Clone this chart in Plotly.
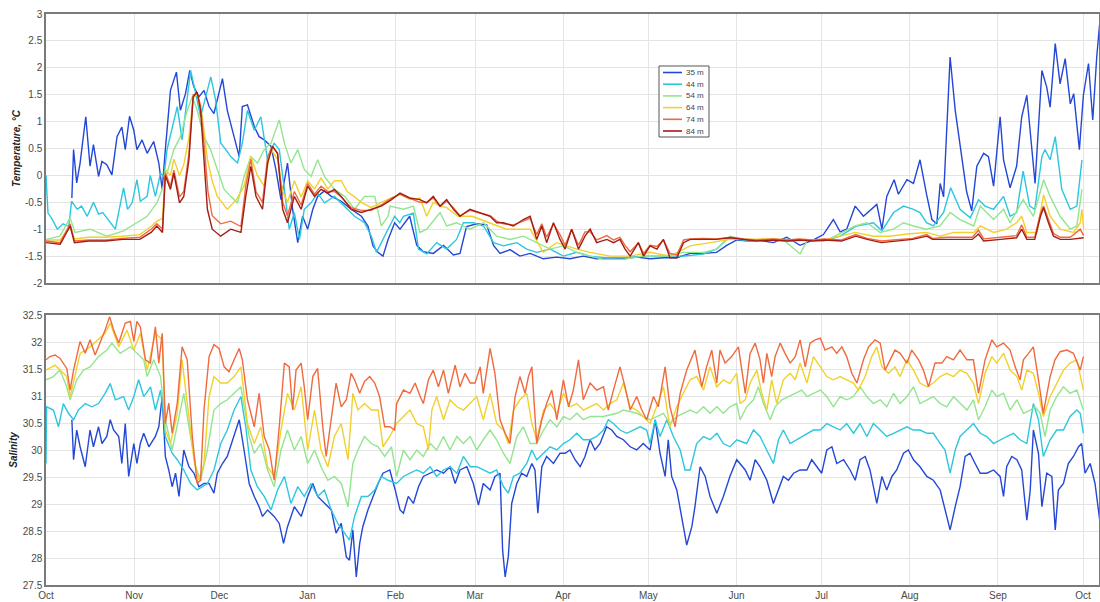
import pandas as pd
import plotly.graph_objects as go

START = pd.Timestamp("2016-10-01")
END_DAY = 370.6

DEPTHS = ["35 m", "44 m", "54 m", "64 m", "74 m", "84 m"]
COLORS = ["#2347d6", "#2cc6df", "#93e58f", "#f2d02e", "#ef6a3e", "#a31d16"]
MONTH_LABELS = ["Oct", "Nov", "Dec", "Jan", "Feb", "Mar", "Apr", "May", "Jun", "Jul", "Aug", "Sep", "Oct"]
TEMP_TICKS = [-2, -1.5, -1, -0.5, 0, 0.5, 1, 1.5, 2, 2.5, 3]
SAL_TICKS = [27.5, 28, 28.5, 29, 29.5, 30, 30.5, 31, 31.5, 32, 32.5]

# (day since 1 Oct, temperature degC)
T35 = [(9.1,-0.42),(9.7,0.48),(10.8,-0.14),(12,0.23),(14,1.09),(15.5,0.17),(16.7,0.57),(18.5,-0.02),(19.7,0.26),(21.4,0.2),(23.2,0.01),(25,0.72),(26.7,0.9),(27.9,0.48),(29.4,1.1),(30.9,0.84),(32,0.48),(33.8,0.66),(35.6,0.41),(37.9,0.63),(39.7,0.23),(40.9,-0.26),(42,0.48),(43.8,1.58),(45.9,1.92),(47.3,1.21),(49.1,1.52),(50.6,1.95),(52,1.65),(53.8,1.46),(55.6,1.58),(57.4,1.28),(59.1,1.15),(62.1,1.8),(63.8,1.21),(65.6,0.84),(68,0.35),(69.1,1.28),(70.9,1.31),(73.3,0.91),(75,0.72),(76.8,0.66),(79.2,0.54),(80.9,0.11),(82.7,-0.45),(85,0.23),(86.8,-0.63),(88.6,-1.25),(90.3,-0.76),(92.1,-1.0),(93.9,-0.63),(95.6,-0.39),(98,-0.29),(100.4,-0.39),(103.9,-0.48),(107.4,-0.63),(111,-0.76),(113.3,-0.94),(115.1,-1.31),(116.8,-1.43),(118.6,-1.5),(120.4,-1.19),(122.7,-0.88),(124.6,-1.0),(128,-0.76),(130.5,-1.3),(132.8,-1.42),(136.3,-1.45),(139.9,-1.3),(143.4,-1.48),(145.7,-1.45),(148,-0.95),(151.6,-0.9),(155.1,-0.92),(157.5,-1.3),(159.8,-1.45),(163.3,-1.38),(166.8,-1.5),(170.4,-1.45),(175,-1.55),(179.7,-1.52),(184.4,-1.55),(189.1,-1.5),(193.8,-1.55),(198.5,-1.53),(203.2,-1.55),(207.9,-1.52),(212.6,-1.55),(217.3,-1.53),(222,-1.53),(226.7,-1.45),(231.4,-1.45),(236,-1.43),(239.6,-1.3),(243.1,-1.2),(247.8,-1.22),(250.2,-1.2),(256,-1.25),(260.7,-1.15),(265.4,-1.3),(270.1,-1.2),(273.6,-1.1),(277.1,-0.82),(279.5,-1.05),(281.8,-1.0),(284.8,-0.57),(287.7,-0.76),(292.4,-0.54),(294.2,-1.0),(295.9,-0.39),(298.5,-0.08),(300,-0.35),(303,-0.08),(305.3,-0.15),(307.6,0.29),(309.9,-0.35),(311.8,-0.82),(313.5,-0.9),(314.7,-0.15),(315.9,-0.4),(318.2,2.2),(320,1.21),(321.7,0.6),(324,-0.3),(325.8,-0.66),(327.6,0.17),(330,0.41),(331.7,0.35),(333.5,-0.2),(335.8,1.09),(337,0.29),(339.3,-0.23),(341.6,0.17),(343.4,1.09),(345.2,1.49),(347,0.48),(348.1,-0.15),(350.5,1.95),(352.2,1.64),(353.4,1.27),(355.2,2.45),(356.9,1.7),(358.7,2.17),(360.5,1.33),(361.7,1.52),(363.7,0.48),(365.1,1.49),(366.9,2.08),(368.4,1.03),(369.8,2.2),(370.8,2.8)]
T44 = [(0,0.0),(0.7,-0.7),(2,-0.8),(4,-1.0),(6,-0.9),(8,-0.95),(9,-0.48),(11,-0.63),(12.5,-0.57),(14.5,-0.76),(16.7,-0.5),(18.5,-0.72),(20,-0.69),(22.6,-0.88),(24.4,-1.0),(27.3,-0.23),(28.7,-0.63),(30.3,-0.51),(32,-0.08),(33.2,-0.48),(35.6,-0.39),(36.7,0.0),(38.5,-0.39),(40.3,0.04),(41.5,-0.02),(42.6,0.48),(44.4,0.9),(46.2,1.28),(47.9,0.66),(49.7,1.46),(50.9,1.95),(52.7,1.52),(54.4,1.09),(56.2,1.46),(58,1.83),(59.7,1.4),(61.5,0.6),(63.3,0.48),(65,0.35),(67.4,0.23),(69.1,0.6),(70.9,1.21),(73.3,0.84),(75.6,1.09),(78,0.29),(80.3,0.6),(82.1,0.48),(83.9,-0.26),(85.6,-1.0),(87.4,-0.69),(89.2,-1.19),(90.9,-0.63),(93.3,-0.51),(95.6,-0.33),(98,-0.51),(101.5,-0.39),(105.1,-0.57),(108.6,-0.76),(112.1,-0.88),(114.5,-1.13),(116.3,-1.43),(118,-1.25),(120.4,-1.0),(122.7,-0.76),(124.5,-0.88),(125.8,-0.76),(129.3,-0.7),(131.1,-1.37),(134,-1.46),(137.5,-1.25),(141,-1.37),(144.5,-1.19),(146.9,-0.88),(150.4,-0.88),(154,-0.94),(157.5,-1.25),(161,-1.31),(165.7,-1.25),(169.2,-1.37),(172.7,-1.43),(177.4,-1.37),(182.1,-1.5),(186.8,-1.43),(191.5,-1.5),(196.2,-1.53),(203.2,-1.53),(210.3,-1.5),(217.3,-1.5),(224.4,-1.5),(231.4,-1.46),(236,-1.37),(239.6,-1.19),(243.1,-1.19),(247.8,-1.22),(255,-1.2),(262,-1.22),(268,-1.2),(273.6,-1.22),(279.5,-1.13),(285.3,-0.94),(291.2,-0.88),(294.2,-1.03),(298.3,-0.69),(301.8,-0.57),(305.3,-0.63),(307.6,-0.69),(309.9,-0.88),(312.3,-0.94),(315.9,-0.69),(318.4,-0.23),(321.7,-0.63),(325.3,-0.79),(328.2,-0.45),(330.5,-0.57),(333.5,-0.63),(337,-0.39),(339.3,-0.76),(341.6,-0.69),(343.9,0.08),(346.2,-0.57),(348,-0.63),(350.5,0.35),(351.6,0.48),(353.4,0.29),(355.2,0.72),(357.5,-0.26),(360.5,-0.63),(362.8,-0.57),(364.6,0.29)]
T54 = [(0,-1.19),(4.9,-1.13),(8.5,-0.79),(10.2,-1.06),(15.5,-1.0),(21.4,-1.13),(27.3,-1.03),(32,-0.88),(35.6,-0.76),(39.1,-0.5),(40.9,-0.26),(42.6,0.04),(45,0.48),(47.3,0.72),(49.7,1.21),(51.5,1.46),(53.2,1.21),(55.6,0.72),(57.9,0.48),(60.3,0.11),(62.7,-0.26),(65,-0.39),(67.4,-0.51),(69.7,-0.02),(72.1,0.35),(74.4,0.23),(76.8,0.48),(79.2,0.6),(82.1,1.03),(83.9,0.6),(86.2,0.23),(88.6,0.48),(90.9,0.11),(93.3,-0.02),(95.6,0.29),(98,-0.02),(101.5,-0.26),(105.1,-0.39),(108.6,-0.63),(112.1,-0.39),(115.7,-0.39),(118,-0.94),(120.4,-0.76),(121.1,-0.57),(125.8,-0.63),(129.3,-0.57),(131.6,-1.06),(134,-1.0),(138.7,-0.69),(141,-0.94),(144.5,-0.88),(149.2,-1.0),(154,-0.88),(158.6,-1.13),(163.3,-1.19),(168,-1.13),(172.7,-1.25),(177.4,-1.37),(182.1,-1.31),(186.8,-1.43),(191.5,-1.5),(196.2,-1.56),(203.2,-1.56),(210.3,-1.5),(217.3,-1.5),(224.4,-1.43),(231.4,-1.43),(236,-1.37),(240.8,-1.13),(245.5,-1.19),(255,-1.2),(260,-1.22),(265.4,-1.46),(268,-1.2),(275,-1.2),(284.8,-0.94),(288.9,-0.88),(293.6,-1.06),(298.3,-1.0),(301.8,-0.88),(305.3,-0.94),(309.9,-1.0),(314.7,-0.94),(318.2,-0.69),(321.7,-0.82),(326.5,-0.94),(328.8,-0.57),(333.5,-0.82),(337,-0.63),(339.3,-0.88),(343.9,-0.45),(347.5,-0.76),(351.1,-0.08),(353.4,-0.39),(356.9,-0.76),(360.5,-1.0),(362.8,-0.94),(364.6,-0.26)]
T64 = [(0,-1.2),(5,-1.2),(8.5,-0.95),(10,-1.18),(15,-1.15),(21,-1.15),(27,-1.13),(33,-1.1),(37,-0.95),(39,-0.85),(41,-0.8),(42,0.1),(43.8,0.0),(45,0.3),(47,0.0),(48.5,0.2),(50.3,0.7),(51.8,1.45),(53.2,1.5),(55,1.1),(56.8,0.3),(58.5,-0.1),(60.3,-0.39),(63.8,-0.63),(67,-0.45),(69.7,-0.2),(72.1,0.35),(74.4,0.0),(76.8,-0.2),(79,0.5),(81.5,0.3),(83.3,-0.3),(85,-0.5),(87.4,-0.1),(89.8,-0.4),(92.1,-0.1),(94.5,-0.25),(96.8,-0.05),(99.2,-0.25),(101.5,-0.1),(103.9,-0.1),(106,-0.3),(108.6,-0.4),(111,-0.5),(114.5,-0.6),(118,-0.5),(121.6,-0.42),(124.6,-0.35),(128,-0.45),(131.6,-0.42),(134,-0.76),(136.3,-0.5),(138.7,-0.57),(141,-0.6),(145,-0.76),(150,-0.76),(156,-0.88),(162,-1.0),(168,-1.0),(170.4,-1.0),(175,-1.43),(179.7,-1.25),(186.8,-1.37),(191.5,-1.43),(198.5,-1.5),(205.6,-1.5),(212.6,-1.43),(219.6,-1.5),(226.7,-1.31),(233.7,-1.25),(240.8,-1.19),(245,-1.19),(255,-1.18),(265,-1.2),(275,-1.19),(284.8,-1.06),(291.2,-1.13),(297,-1.13),(303,-1.09),(309.9,-1.06),(314.7,-1.13),(319.4,-1.06),(326.5,-1.06),(328.8,-0.94),(333.5,-1.06),(338.1,-1.0),(341.6,-0.88),(343.4,-0.76),(345.2,-1.06),(348.7,-1.06),(351.1,-0.36),(353.4,-0.76),(356.9,-1.0),(361.7,-1.06),(364,-0.88),(364.6,-0.63),(365.2,-1.0)]
T74 = [(0,-1.22),(5,-1.25),(8.5,-0.9),(10,-1.22),(15,-1.2),(21,-1.2),(27,-1.17),(33,-1.15),(37,-1.0),(39,-0.9),(41,-1.0),(42,0.05),(43.8,-0.2),(45,0.1),(47,-0.4),(48.5,-0.3),(50.3,0.4),(51.8,1.5),(53.2,1.52),(54.4,1.3),(55.6,0.6),(57,-0.3),(58.5,-0.75),(61.5,-0.9),(65,-0.85),(68.6,-0.95),(70.3,-0.2),(72.1,0.3),(73.9,-0.3),(76.2,-0.5),(78,0.35),(79.7,0.55),(81.5,0.4),(83.3,-0.5),(85,-0.75),(87.4,-0.3),(89.8,-0.55),(92.1,-0.15),(94.5,-0.35),(96.8,-0.2),(99.2,-0.3),(101.5,-0.3),(103.9,-0.4),(107.4,-0.6),(111,-0.65),(114.5,-0.65),(118,-0.55),(121.6,-0.42),(124.6,-0.35),(128,-0.42),(131.6,-0.5),(134,-0.5),(136.3,-0.42),(138.7,-0.58),(141,-0.48),(143.4,-0.6),(145.7,-0.75),(149.2,-0.65),(152.8,-0.7),(156.3,-0.75),(158.6,-0.85),(161,-0.9),(164.5,-0.92),(168,-0.85),(170.4,-0.8),(172.7,-1.1),(174.5,-0.9),(176.2,-1.15),(178.6,-0.9),(180.9,-1.1),(182.7,-1.3),(185,-1.0),(187.4,-1.3),(189.7,-1.05),(191.5,-1.05),(193.8,-1.2),(197.4,-1.12),(199.7,-1.2),(202,-1.15),(203.8,-1.3),(205.6,-1.42),(208.5,-1.25),(210.3,-1.45),(212.6,-1.3),(215,-1.32),(217.3,-1.2),(219.6,-1.45),(222,-1.48),(224.4,-1.2),(226.7,-1.18),(231.4,-1.17),(236,-1.18),(240.8,-1.15),(245.5,-1.18),(250,-1.2),(256,-1.18),(261,-1.2),(265,-1.18),(270,-1.2),(274,-1.18),(280,-1.2),(285,-1.1),(289,-1.17),(294,-1.22),(300,-1.2),(305,-1.17),(310,-1.1),(312,-1.17),(317,-1.15),(326,-1.15),(328.2,-1.02),(330,-1.18),(336,-1.15),(341.6,-1.12),(343.4,-0.92),(345.2,-1.15),(348,-1.15),(350,-0.7),(351.1,-0.57),(352.8,-0.8),(354.6,-1.08),(357,-1.15),(360.5,-1.15),(364,-1.0),(365.2,-1.12)]
T84 = [(0,-1.25),(5,-1.28),(8.5,-0.94),(10,-1.25),(15,-1.22),(21,-1.22),(27,-1.19),(33,-1.19),(37,-1.06),(39,-0.94),(41,-1.06),(42,0.0),(43.8,-0.26),(45,0.04),(47,-0.51),(48.5,-0.39),(50.3,0.29),(51.8,1.46),(53.2,1.55),(54.4,1.21),(55.6,0.29),(56.8,-0.63),(58.5,-1.0),(61.5,-1.13),(65,-1.0),(68.6,-1.06),(70.3,-0.39),(72.1,0.17),(73.9,-0.39),(76.2,-0.63),(78,0.23),(79.7,0.54),(81.5,0.41),(83.3,-0.63),(85,-0.88),(87.4,-0.39),(89.8,-0.63),(92.1,-0.2),(94.5,-0.39),(96.8,-0.26),(99.2,-0.33),(101.5,-0.26),(103.9,-0.39),(107.4,-0.63),(111,-0.69),(114.5,-0.63),(118,-0.57),(121.6,-0.45),(124.6,-0.33),(128,-0.42),(131.6,-0.45),(134,-0.51),(136.3,-0.39),(138.7,-0.57),(141,-0.45),(143.4,-0.63),(145.7,-0.76),(149.2,-0.63),(152.8,-0.69),(156.3,-0.76),(158.6,-0.88),(161,-0.88),(164.5,-0.94),(168,-0.82),(170.4,-0.76),(172.7,-1.19),(174.5,-0.94),(176.2,-1.25),(178.6,-0.88),(180.9,-1.19),(182.7,-1.37),(185,-1.0),(187.4,-1.37),(189.7,-1.13),(191.5,-1.0),(193.8,-1.25),(197.4,-1.19),(199.7,-1.25),(202,-1.19),(203.8,-1.37),(205.6,-1.5),(208.5,-1.25),(210.3,-1.5),(212.6,-1.31),(215,-1.37),(217.3,-1.19),(219.6,-1.53),(222,-1.53),(224.4,-1.25),(226.7,-1.19),(231.4,-1.19),(236,-1.19),(240.8,-1.16),(245.5,-1.19),(250,-1.22),(256,-1.2),(261,-1.22),(265,-1.2),(270,-1.22),(274,-1.2),(280,-1.22),(285,-1.13),(289,-1.19),(294,-1.25),(300,-1.22),(305,-1.19),(310,-1.13),(312,-1.19),(317,-1.19),(326,-1.19),(328.2,-1.09),(330,-1.22),(336,-1.19),(341.6,-1.16),(343.4,-1.0),(345.2,-1.19),(348,-1.19),(350,-0.76),(351.1,-0.6),(352.8,-0.88),(354.6,-1.13),(357,-1.19),(360.5,-1.19),(364,-1.16),(365.2,-1.16)]

# (day since 1 Oct, salinity)
S35 = [(9.1,30.56),(9.7,29.82),(10.8,30.37),(12,30.06),(13.8,29.69),(15.5,30.37),(16.7,30.06),(18.5,30.43),(19.7,30.12),(21.4,30.25),(22.6,30.56),(23.8,30.37),(25.6,30.25),(26.7,29.75),(27.9,30.49),(29.1,29.51),(30.9,30.12),(32,29.75),(33.2,30.12),(34.4,30.31),(36.2,30.06),(38.5,30.25),(39.7,30.43),(40.9,30.99),(42,29.88),(43.2,29.63),(44.4,29.32),(45.6,29.57),(46.8,29.14),(48.5,30.0),(50.3,29.69),(52.1,29.57),(53.8,29.32),(55.6,29.38),(57.4,29.38),(59.1,29.2),(60.3,29.57),(62.1,29.75),(63.8,29.88),(66.2,30.25),(68,30.56),(69.7,30.0),(71.5,29.38),(73.3,29.14),(75,28.95),(76.2,28.77),(78,28.89),(80.3,28.77),(82.1,28.64),(83.6,28.27),(85,28.58),(87.4,28.95),(89.8,28.77),(92.1,29.14),(93.9,29.38),(95.6,29.14),(98,29.01),(100.4,28.89),(102.1,28.46),(103.9,28.64),(105.7,28.02),(106.8,27.96),(108,28.52),(109.2,27.65),(110.4,28.27),(111.5,28.58),(113.3,28.89),(115.1,29.14),(116.9,29.38),(118.6,29.57),(121,29.63),(122.9,29.26),(124.6,28.89),(125.8,28.83),(127.5,29.14),(129.3,29.01),(131.1,29.32),(132.8,29.51),(135.2,29.57),(137.5,29.63),(139.9,29.57),(142.2,29.69),(144,29.38),(145.7,29.63),(148.1,29.69),(150.4,29.38),(152.2,28.98),(153.9,29.38),(156.3,29.26),(158,29.51),(159.8,29.57),(160.7,28.15),(161.6,27.65),(162.7,28.02),(163.9,29.01),(165.7,29.38),(167.4,29.57),(169.2,29.51),(171,29.75),(172.1,29.63),(173.1,28.83),(174.5,29.69),(176.2,29.88),(178.6,29.75),(180.9,29.94),(182.7,29.94),(184.4,30.0),(186.2,29.82),(188,29.69),(189.7,29.88),(191.5,30.19),(193.2,30.0),(195,30.12),(197.3,30.43),(199.1,30.37),(200.9,30.25),(203.2,30.19),(205.6,30.06),(207.9,30.0),(210.2,30.12),(212.6,30.0),(214.4,30.56),(216.1,29.94),(217.9,29.51),(219,30.19),(220.2,29.51),(222,29.26),(223.7,28.77),(225.5,28.24),(227.3,28.58),(228.4,28.95),(230.2,29.69),(232,29.51),(233.7,29.14),(236.1,28.83),(238.4,29.14),(240.7,29.51),(243.1,29.82),(246.1,29.63),(247.8,29.44),(249.6,29.82),(251.3,29.69),(253.7,29.44),(256,29.01),(257.8,29.26),(259.5,29.51),(261.3,29.44),(263.1,29.57),(265.4,29.63),(267.8,29.63),(269.5,29.82),(271.3,29.69),(273,29.57),(274.8,30.0),(276.6,30.06),(278.3,29.75),(280.7,29.82),(283,29.63),(284.8,29.44),(286.5,29.82),(288.3,29.88),(290,29.63),(292.4,29.01),(294.2,29.51),(295.9,29.26),(297.7,29.51),(299.4,29.63),(301.8,29.94),(303.5,30.0),(305.3,29.82),(307.6,29.69),(310,29.51),(312.3,29.44),(314.7,29.26),(316.4,28.89),(318.2,28.52),(320,28.95),(321.7,29.32),(323.5,29.88),(325.2,29.94),(327,29.75),(328.8,29.57),(331.1,29.57),(333.5,29.63),(335.8,29.51),(337,29.14),(338.1,29.69),(339.9,29.88),(341.7,29.82),(343.4,29.63),(345.2,28.7),(346.4,29.26),(347.5,30.37),(349.3,29.94),(350.5,28.95),(352.2,29.57),(354,29.51),(355.2,28.52),(356.3,29.26),(358.1,29.38),(359.8,29.75),(361.6,29.88),(363.4,30.06),(364.5,30.12),(365.7,29.57),(367.5,29.75),(369.2,29.38),(371,28.64)]
S44 = [(0,29.75),(0.2,30.8),(2.6,30.74),(4.4,30.43),(6.1,30.86),(7.9,30.68),(9.7,30.56),(11.4,30.74),(13.8,30.86),(16.1,30.8),(18.5,30.86),(20.8,31.05),(22.6,31.23),(24.4,30.93),(27.3,30.99),(29.1,30.74),(30.9,30.99),(32.6,31.3),(34.4,30.99),(36.8,31.17),(38.5,30.74),(40.3,31.11),(41.2,30.74),(42,30.25),(44.4,29.94),(46.2,29.82),(48.5,29.63),(50.9,29.38),(53.2,29.26),(56.8,29.38),(59.1,29.63),(61.5,30.12),(63.8,30.37),(66.2,30.74),(68.6,30.99),(70.3,30.43),(72.1,29.63),(74.4,29.32),(76.8,29.14),(79.2,28.89),(81.5,29.26),(83.9,29.51),(86.2,29.01),(88.6,29.32),(90.9,29.14),(93.3,29.38),(95.6,29.14),(98,29.26),(100.4,28.89),(102.7,28.64),(105.1,28.46),(106.8,28.33),(108.6,28.77),(111,29.14),(113.3,29.14),(115.7,29.26),(118,29.51),(120.4,29.44),(123.4,29.38),(125.8,29.51),(128.1,29.57),(130.5,29.63),(132.8,29.57),(135.2,29.69),(137.5,29.51),(139.9,29.63),(142.2,29.69),(144.6,29.57),(146.9,29.88),(149.3,29.69),(151.6,29.69),(153.9,29.63),(156.3,29.57),(158.6,29.63),(161,29.32),(162.7,29.2),(164.5,29.51),(166.8,29.57),(169.2,29.75),(171,30.0),(172.7,29.82),(175.1,29.94),(177.4,30.06),(179.8,30.0),(182.1,30.12),(184.4,30.19),(186.8,30.31),(189.1,30.19),(191.5,30.19),(193.8,30.25),(196.2,30.37),(197.9,30.56),(199.7,30.49),(202,30.37),(204.4,30.31),(206.7,30.37),(209.1,30.43),(211.4,30.37),(212.6,30.12),(214.4,30.56),(216.1,30.25),(218.5,30.56),(220.8,30.25),(223.2,30.0),(224.9,29.63),(226.7,29.63),(229,30.12),(231.4,30.25),(233.7,30.19),(236.1,30.31),(238.4,30.12),(240.7,30.06),(243.1,30.19),(246.6,30.12),(249,30.37),(251.3,30.25),(253.7,30.0),(256,29.75),(257.8,30.19),(259.5,30.37),(261.9,30.12),(264.2,30.19),(267.8,30.31),(270.1,30.37),(272.5,30.37),(274.8,30.49),(277.1,30.43),(279.5,30.37),(281.8,30.49),(284.2,30.31),(286.5,30.49),(288.9,30.25),(291.2,30.49),(293.6,30.37),(295.9,30.25),(298.3,30.31),(300.6,30.37),(303,30.43),(305.3,30.37),(307.6,30.37),(310,30.31),(312.3,30.31),(314.7,30.12),(316.4,30.0),(318.2,29.57),(320,30.0),(321.7,30.25),(324.1,30.37),(326.4,30.49),(328.8,30.31),(331.1,30.25),(333.5,30.12),(335.8,30.19),(338.1,30.25),(340.5,30.31),(342.8,30.19),(345.2,30.12),(347.5,30.86),(349.3,30.56),(351,29.88),(353.4,30.19),(355.7,30.37),(358.1,30.37),(360.4,30.62),(362.8,30.74),(364,30.68),(365.1,30.31)]
S54 = [(0,31.3),(2.6,31.36),(4.9,31.48),(7.3,31.17),(8.5,30.93),(10.8,31.3),(13.2,31.48),(15.5,31.54),(18.5,31.73),(21.4,31.85),(23.2,31.98),(26.1,31.79),(29.7,31.91),(32,31.79),(34.4,31.67),(35.6,31.36),(37.9,31.67),(40.3,31.36),(42,30.56),(44.4,30.0),(46.2,30.49),(48.5,31.05),(50.3,30.43),(52.7,29.69),(54.4,29.44),(56.8,30.0),(59.1,30.74),(61.5,30.86),(63.8,30.93),(66.2,31.05),(68.6,31.17),(71.5,30.25),(73.3,29.94),(75.6,30.12),(78,29.63),(80.3,29.32),(82.7,30.0),(85,30.37),(87.4,30.0),(89.8,30.25),(92.1,29.75),(94.5,30.0),(96.8,29.69),(99.2,29.44),(101.5,29.51),(103.9,29.38),(106.3,28.95),(108,29.75),(109.8,30.0),(112.1,30.25),(114.5,30.12),(116.9,30.06),(119.2,29.88),(121.6,30.06),(123.4,29.51),(125.8,30.0),(128.1,29.82),(130.5,30.0),(132.8,29.88),(135.2,30.12),(137.5,30.0),(139.9,30.25),(142.2,30.0),(144.6,30.25),(146.9,30.12),(149.3,30.25),(151.6,30.0),(153.9,30.19),(156.3,30.37),(158.6,30.19),(161,29.94),(163.3,29.75),(165.7,30.25),(168,30.43),(170.4,30.12),(172.7,30.12),(175.1,30.37),(177.4,30.56),(179.8,30.43),(182.1,30.62),(184.4,30.56),(186.8,30.68),(189.1,30.56),(191.5,30.62),(196.2,30.62),(200.9,30.68),(203.2,30.74),(207.9,30.68),(212.6,30.56),(214.9,30.62),(217.3,30.68),(219.6,30.49),(222,30.62),(226.7,30.74),(229,30.68),(231.4,30.8),(233.7,30.68),(236.1,30.8),(238.4,30.68),(240.7,30.8),(243.1,30.86),(244.3,30.56),(246.6,30.8),(249,30.93),(250.7,31.17),(252.5,30.86),(254.9,30.56),(256.6,30.8),(259,30.93),(261.3,30.99),(263.7,31.05),(266,31.11),(267.8,30.99),(270.1,31.05),(272.5,31.11),(274.8,30.99),(277.1,30.8),(279.5,30.99),(281.8,30.93),(284.2,30.99),(286.5,31.17),(288.9,30.99),(291.2,30.86),(293.6,30.93),(295.9,30.8),(298.3,31.05),(300.6,30.86),(303,30.99),(305.3,31.17),(307.6,30.86),(310,30.93),(312.3,30.99),(314.7,30.86),(317,30.8),(319.4,30.99),(321.7,30.86),(324.1,30.74),(326.4,30.93),(328.2,30.56),(330.5,30.8),(332.9,31.11),(334.6,30.99),(337,31.05),(339.3,30.74),(341.7,30.93),(344,30.68),(346.4,30.74),(348.1,30.8),(349.9,30.68),(351.6,30.25),(353.4,30.74),(355.7,30.99),(358.1,31.17),(360.4,31.05),(362.8,31.11),(365.1,30.74)]
S64 = [(0,31.48),(3.2,31.57),(7.3,31.36),(8.5,30.99),(12,31.79),(15.5,31.91),(20.8,32.16),(22.6,32.35),(25.6,31.91),(28.5,32.22),(30.9,31.85),(33.2,32.16),(35.6,31.48),(38.5,32.16),(40.9,32.04),(42,30.37),(43.8,30.12),(46.2,30.68),(47.9,31.67),(49.7,30.86),(52.1,29.81),(53.8,29.44),(55.6,29.75),(57.4,30.99),(59.1,31.36),(61.5,31.24),(63.8,31.24),(66.2,31.36),(68.6,31.54),(70.9,30.49),(73.3,30.12),(75.6,30.43),(78,29.69),(80.3,29.51),(82.7,30.37),(85,31.05),(87.4,30.74),(89.8,31.17),(92.1,30.0),(94.5,30.74),(96.8,30.0),(99.2,29.69),(101.5,30.25),(103.9,30.49),(106.3,29.82),(108,31.05),(109.8,30.74),(112.1,30.86),(114.5,30.74),(116.9,30.74),(118.6,30.06),(121,30.25),(123.4,30.49),(125.8,30.62),(128.1,30.74),(130.5,30.49),(132.8,30.43),(134.6,30.0),(135.8,30.74),(137.5,30.99),(139.9,30.56),(142.2,30.93),(144.6,30.8),(146.9,30.74),(149.3,30.86),(151.6,30.99),(153.9,30.56),(156.3,31.05),(158.6,30.49),(161,30.37),(162.7,30.12),(164.5,30.74),(166.8,30.93),(169.2,31.05),(171,30.49),(172.7,30.19),(175.1,30.74),(177.4,30.86),(179.8,30.68),(182.1,31.05),(184.4,30.8),(186.8,30.86),(189.1,30.74),(191.5,30.8),(193.8,30.86),(196.2,30.74),(198.5,30.86),(200.9,30.93),(203.2,31.24),(205.6,30.8),(207.9,30.74),(210.2,30.62),(212.6,30.49),(214.9,30.8),(217.3,31.17),(219.6,30.43),(222,30.8),(224.3,31.05),(226.7,31.3),(229,31.36),(231.4,31.11),(233.7,31.54),(236.1,31.17),(238.4,31.3),(240.7,31.23),(243.1,31.42),(244.3,30.86),(246.1,30.93),(247.8,31.24),(250.2,31.48),(251.9,31.05),(253.7,30.74),(255.4,31.3),(257.2,30.86),(259.5,31.3),(261.9,31.42),(263.7,31.3),(265.4,31.61),(267.8,31.24),(270.1,31.73),(272.5,31.54),(274.8,31.36),(277.1,31.3),(279.5,31.36),(281.8,31.3),(284.2,31.24),(285.9,31.11),(288.3,31.36),(290.6,31.73),(292.4,31.91),(294.2,31.54),(296.5,31.42),(298.8,31.54),(300.6,31.36),(303,31.67),(305.3,31.48),(307.6,31.24),(310,31.17),(312.3,31.24),(314.7,31.36),(317,31.42),(319.4,31.36),(321.7,31.48),(324.1,31.42),(326.4,31.24),(328.2,30.86),(330.5,31.42),(332.9,31.73),(334.6,31.61),(337,31.79),(339.3,31.48),(341.7,31.36),(343.4,31.11),(345.2,31.48),(347.5,31.42),(349.3,31.05),(351,30.62),(353.4,30.99),(355.7,31.23),(358.1,31.48),(360.4,31.61),(362.8,31.67),(365.1,31.11)]
S74 = [(0,31.67),(1.4,31.73),(3.2,31.76),(4.9,31.7),(7.3,31.51),(8.5,31.11),(9.7,31.48),(12,32.01),(13.8,31.79),(15.5,32.04),(17.3,31.76),(19.1,31.98),(20.8,32.22),(22.4,32.47),(23.8,32.22),(25.6,31.98),(27.9,32.35),(29.7,32.38),(30.9,32.01),(32,32.38),(33.2,32.28),(35,31.67),(36.7,31.61),(38.5,32.28),(39.7,31.61),(40.9,32.16),(42,30.49),(43.2,30.87),(44.4,30.31),(46.2,30.87),(47.9,31.91),(49.7,31.67),(51.5,30.25),(53.2,29.38),(54.4,29.44),(55.6,30.74),(57.4,31.73),(59.1,31.95),(60.9,31.88),(62.7,31.54),(64.4,31.45),(66.2,31.67),(68,31.88),(69.1,31.67),(70.9,30.93),(73.3,30.43),(75,31.05),(76.8,30.25),(78.6,30.0),(80.3,29.44),(82.1,30.43),(83.9,31.61),(85.6,31.54),(86.8,30.74),(88,31.48),(89.8,31.61),(90.9,31.17),(92.1,30.56),(93.9,31.36),(95.6,31.51),(97.4,30.43),(98.6,29.88),(100.4,30.62),(102.1,31.24),(103.9,30.8),(105.7,30.93),(107.4,31.42),(108.6,31.3),(110.4,31.05),(112.1,31.27),(113.9,31.36),(115.7,31.24),(117.4,30.99),(119.2,30.43),(121,30.43),(122.7,30.37),(123.4,30.86),(125.8,31.11),(128.1,31.05),(129.9,31.24),(131.7,30.99),(132.8,30.86),(134.6,31.3),(136.3,31.48),(138.1,31.17),(139.9,31.48),(141.6,31.05),(144,31.57),(145.7,31.17),(147.5,31.42),(149.3,31.24),(151,31.24),(152.8,31.54),(153.9,31.05),(156.3,31.88),(158,31.42),(159.8,30.56),(161.6,30.31),(163.3,30.12),(165.1,30.99),(166.8,31.36),(168.6,31.05),(169.8,31.36),(171,31.54),(172.7,30.12),(174.5,30.56),(176.2,30.86),(178,31.11),(179.8,30.56),(182.1,31.3),(183.9,30.8),(185.6,31.11),(187.4,31.67),(189.1,30.93),(191.5,31.24),(193.8,31.11),(196.2,31.17),(197.9,30.74),(199.7,31.11),(202,31.54),(203.8,31.17),(205.6,30.74),(207.9,30.99),(209.7,30.74),(211.4,30.56),(213.8,30.99),(215.5,30.8),(217.9,31.54),(219.6,30.8),(221.4,30.43),(223.2,31.05),(225.5,31.48),(228.4,31.85),(230.8,31.17),(232.5,31.54),(234.3,31.85),(236.1,31.24),(237.2,31.85),(239,31.61),(241.3,31.73),(243.7,31.91),(246.1,31.05),(247.8,31.79),(249.6,31.98),(251.3,31.67),(252.5,31.24),(253.7,31.79),(255.4,31.36),(256.6,31.73),(258.4,31.98),(260.1,31.79),(261.9,31.61),(263.7,31.73),(265.4,32.04),(267.2,31.54),(268.9,31.98),(270.7,32.04),(272.5,32.07),(274.2,31.85),(276.6,31.91),(278.3,31.79),(280.1,31.91),(281.8,31.73),(283.6,31.42),(285.4,31.24),(287.7,31.67),(289.5,31.91),(291.8,32.04),(293.6,31.98),(295.3,31.48),(297.1,31.67),(298.8,31.85),(300.6,31.79),(303,31.61),(304.7,31.85),(307.1,31.67),(308.8,31.48),(310.6,31.17),(312.9,31.61),(315.3,31.61),(317,31.73),(319.4,31.67),(321.7,31.85),(324.1,31.67),(326.4,31.67),(328.2,31.05),(330.5,31.67),(332.9,32.04),(334.6,31.91),(337,31.98),(339.3,31.85),(341.1,31.54),(342.8,31.3),(344,31.67),(345.8,31.79),(347.5,31.91),(349.3,31.3),(351,30.68),(353.4,31.36),(355.1,31.67),(356.9,31.82),(359.3,31.85),(361.6,31.79),(364,31.48),(365.1,31.73)]

TEMP_SERIES = [T35, T44, T54, T64, T74, T84]
SAL_SERIES = [S35, S44, S54, S64, S74]


def unpack(pairs):
    days = [p[0] for p in pairs]
    vals = [p[1] for p in pairs]
    return START + pd.to_timedelta(days, unit="D"), vals


fig = go.Figure()
for name, color, series in zip(DEPTHS, COLORS, TEMP_SERIES):
    x, y = unpack(series)
    fig.add_trace(go.Scatter(x=x, y=y, mode="lines", name=name, showlegend=False,
                             line=dict(color=color, width=1.4),
                             xaxis="x", yaxis="y"))
for name, color, series in zip(DEPTHS, COLORS, SAL_SERIES):
    x, y = unpack(series)
    fig.add_trace(go.Scatter(x=x, y=y, mode="lines", name=name, showlegend=False,
                             line=dict(color=color, width=1.4),
                             xaxis="x2", yaxis="y2"))

# ---- layout geometry (pixels of the 1100x602 canvas) ----
W, H = 1100, 602
ML, MR, MT, MB = 46, 1, 14, 17
PW, PH = W - ML - MR, H - MT - MB


def px_x(p):
    return (p - ML) / PW


def px_y(p):
    return 1 - (p - MT) / PH


month_ticks = [START + pd.DateOffset(months=i) for i in range(len(MONTH_LABELS))]
x_range = [START, START + pd.Timedelta(days=END_DAY)]
FONT = "Liberation Sans, Arial, sans-serif"
TICK_FONT = dict(family=FONT, size=10, color="#4a4a4a")
GRID = "#e4e4e4"
FRAME = "#7a7a7a"

common_x = dict(range=x_range, tickmode="array", tickvals=month_ticks,
                showgrid=True, gridcolor=GRID, gridwidth=1,
                showline=True, mirror=True, linecolor=FRAME, linewidth=1.5,
                ticks="", zeroline=False, tickfont=TICK_FONT)
common_y = dict(showgrid=True, gridcolor=GRID, gridwidth=1, zeroline=False,
                showline=True, mirror=True, linecolor=FRAME, linewidth=1.5,
                ticks="", tickmode="array", tickfont=TICK_FONT, automargin=False)

# legend box drawn like the MATLAB legend (compact rows)
shapes = [dict(type="rect", xref="paper", yref="paper",
               x0=px_x(659), x1=px_x(709), y0=px_y(137), y1=px_y(66),
               line=dict(color="#555", width=1), fillcolor="white", layer="above")]
annotations = []
for i, (name, color) in enumerate(zip(DEPTHS, COLORS)):
    yy = px_y(72.5 + i * 11.7)
    shapes.append(dict(type="line", xref="paper", yref="paper",
                       x0=px_x(663), x1=px_x(682), y0=yy, y1=yy,
                       line=dict(color=color, width=1.6), layer="above"))
    annotations.append(dict(xref="paper", yref="paper", x=px_x(684), y=yy,
                            text=name, showarrow=False, xanchor="left", yanchor="middle",
                            font=dict(family=FONT, size=8, color="#444")))

fig.update_layout(
    width=W, height=H,
    margin=dict(l=ML, r=MR, t=MT, b=MB),
    paper_bgcolor="white", plot_bgcolor="white",
    font=dict(family=FONT, color="#333"),
    xaxis=dict(common_x, domain=[0, 1], anchor="y", showticklabels=False),
    xaxis2=dict(common_x, domain=[0, 1], anchor="y2", ticktext=MONTH_LABELS),
    yaxis=dict(common_y, domain=[px_y(283), 1], anchor="x", range=[-2, 3],
               tickvals=TEMP_TICKS, ticktext=[f"{v:g}" for v in TEMP_TICKS],
               title=dict(text="<b><i>Temperature, °C</i></b>", standoff=3,
                          font=dict(family=FONT, size=10, color="#222"))),
    yaxis2=dict(common_y, domain=[0, px_y(315)], anchor="x2", range=[27.5, 32.5],
                tickvals=SAL_TICKS, ticktext=[f"{v:g}" for v in SAL_TICKS],
                title=dict(text="<b><i>Salinity</i></b>", standoff=3,
                           font=dict(family=FONT, size=10, color="#222"))),
    shapes=shapes,
    annotations=annotations,
    showlegend=False,
)

fig.write_html("out.html", config={"displayModeBar": False},
               post_script="document.body.style.margin='0';")
